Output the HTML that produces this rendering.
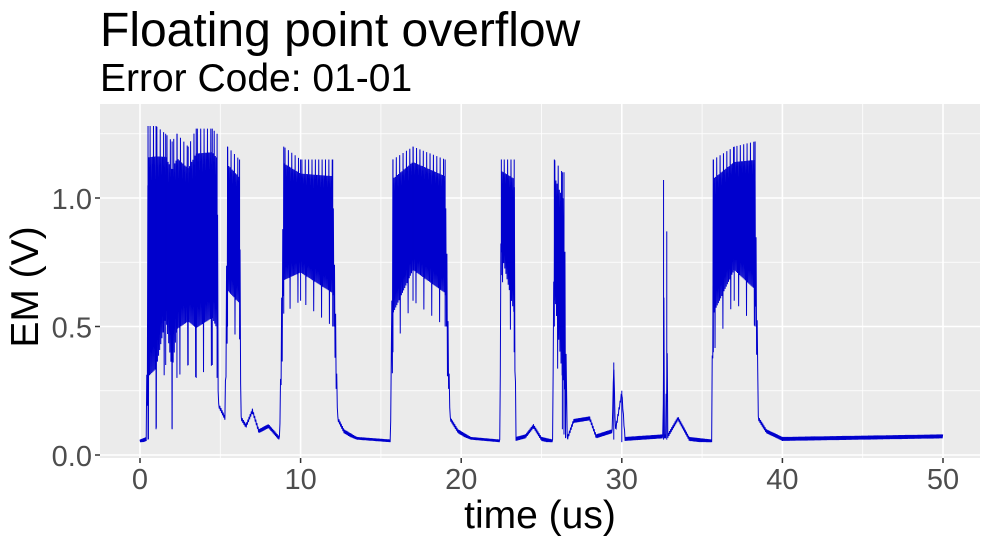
<!DOCTYPE html>
<html><head><meta charset="utf-8"><style>
html,body{margin:0;padding:0;background:#fff;}
svg{display:block;font-family:"Liberation Sans",Arial,sans-serif;}
</style></head><body>
<svg id="chart" width="989" height="544">
<text x="100" y="46" font-size="48" fill="#000">Floating point overflow</text>
<text x="100" y="91" font-size="39" fill="#000">Error Code: 01-01</text>
<rect x="100" y="104" width="880" height="354" fill="#ebebeb"/>
<g id="grid"></g>
<g id="series"></g>
<g id="axes"></g>
<text x="540" y="528" font-size="39" text-anchor="middle" fill="#000">time (us)</text>
<text transform="translate(38,287) rotate(-90)" font-size="39" text-anchor="middle" fill="#000">EM (V)</text>
</svg>
<script>
const xTicks=[0,10,20,30,40,50];
const yTicks=[0.0,0.5,1.0];
const yTickLabels=["0.0","0.5","1.0"];
const times=[0,0.4,0.5,1.0,1.6,2.0,2.3,3.0,3.5,4.5,4.8,4.9,5.3,5.45,6.2,6.3,6.6,7.0,7.4,8.0,8.7,8.95,10,12.0,12.3,12.7,13.5,15.6,15.75,17,19,19.3,19.8,20.6,22.4,22.5,23.3,23.4,24.0,24.5,25.0,25.7,25.8,26.3,26.4,26.6,27.0,28,28.4,29.4,29.5,29.6,30,30.2,32.55,32.6,32.65,32.75,32.8,32.85,33.5,34.2,35.6,35.7,37,38.3,38.5,39.0,40,50];
const upper=[0.06,0.07,1.28,1.28,1.25,1.22,1.25,1.2,1.27,1.27,1.25,0.2,0.15,1.2,1.15,0.15,0.12,0.18,0.1,0.12,0.07,1.2,1.15,1.15,0.15,0.1,0.07,0.06,1.15,1.2,1.15,0.15,0.1,0.07,0.06,1.15,1.15,0.07,0.08,0.12,0.07,0.06,1.15,1.1,1.1,0.07,0.14,0.15,0.08,0.1,0.36,0.1,0.25,0.07,0.08,1.07,0.08,0.08,0.87,0.08,0.15,0.07,0.06,1.15,1.2,1.22,0.15,0.1,0.07,0.08];
const lower=[0.05,0.05,0.06,0.1,0.35,0.1,0.3,0.35,0.3,0.35,0.3,0.1,0.1,0.5,0.45,0.1,0.08,0.08,0.07,0.07,0.06,0.55,0.6,0.5,0.1,0.08,0.06,0.05,0.4,0.6,0.5,0.1,0.08,0.06,0.05,0.7,0.4,0.05,0.06,0.06,0.05,0.05,0.5,0.1,0.08,0.05,0.06,0.05,0.05,0.05,0.06,0.05,0.05,0.05,0.05,0.06,0.06,0.06,0.06,0.06,0.05,0.05,0.05,0.4,0.6,0.5,0.1,0.07,0.05,0.06];
const X=t=>140+t*16.06;
const Y=v=>455-v*257;
const NS='http://www.w3.org/2000/svg';
const grid=document.getElementById('grid'),axes=document.getElementById('axes'),series=document.getElementById('series');
function line(p,x1,y1,x2,y2,c,w){const l=document.createElementNS(NS,'line');l.setAttribute('x1',x1);l.setAttribute('y1',y1);l.setAttribute('x2',x2);l.setAttribute('y2',y2);l.setAttribute('stroke',c);l.setAttribute('stroke-width',w);p.appendChild(l);return l;}
for(let i=0;i<xTicks.length-1;i++){const m=(xTicks[i]+xTicks[i+1])/2;const l=line(grid,X(m),104,X(m),458,'#fff',0.8);

}
for(let i=0;i<yTicks.length;i++){const m=yTicks[i]+0.25;const l=line(grid,100,Y(m),980,Y(m),'#fff',0.8);

}
xTicks.forEach(t=>{const l=line(grid,X(t),104,X(t),458,'#fff',1.6);


const k=line(axes,X(t),458,X(t),463,'#333',1.5);


const tx=document.createElementNS(NS,'text');tx.setAttribute('x',X(t));tx.setAttribute('y',489);tx.setAttribute('font-size','29');tx.setAttribute('fill','#4d4d4d');tx.setAttribute('text-anchor','middle');tx.textContent=t;


axes.appendChild(tx);});
yTicks.forEach((v,i)=>{const l=line(grid,100,Y(v),980,Y(v),'#fff',1.6);


const k=line(axes,95,Y(v),100,Y(v),'#333',1.5);


const tx=document.createElementNS(NS,'text');tx.setAttribute('x',92);tx.setAttribute('y',Y(v)+11);tx.setAttribute('font-size','29');tx.setAttribute('fill','#4d4d4d');tx.setAttribute('text-anchor','end');tx.textContent=yTickLabels[i];


axes.appendChild(tx);});
function interp(arr,t){for(let i=0;i<times.length-1;i++){if(t>=times[i]&&t<=times[i+1]){const f=(t-times[i])/(times[i+1]-times[i]||1);return arr[i]+f*(arr[i+1]-arr[i]);}}return arr[arr.length-1];}
let pts=[];let k=0;
for(let t=0;t<=50;t+=0.035){
  const u=interp(upper,t),lo=interp(lower,t);
  let v;
  if(u<0.4){v=(k%2===0)?u:Math.max(lo,u-0.015);}
  else if(k%2===0){v=(k%6===0)?u:u-(u-lo)*0.1;}
  else{v=(k%7===1)?lo:u-(u-lo)*0.8;}
  pts.push(X(t).toFixed(2)+','+Y(v).toFixed(1));k++;
}
const pl=document.createElementNS(NS,'polyline');
pl.setAttribute('points',pts.join(' '));
pl.setAttribute('fill','none');pl.setAttribute('stroke','#0000cd');pl.setAttribute('stroke-width','1');


series.appendChild(pl);
times.forEach((t,i)=>{if(upper[i]-lower[i]>0.15){const s=line(series,X(t),Y(upper[i]),X(t),Y(lower[i]),'#0000cd',1);

}});
</script>
</body></html>
